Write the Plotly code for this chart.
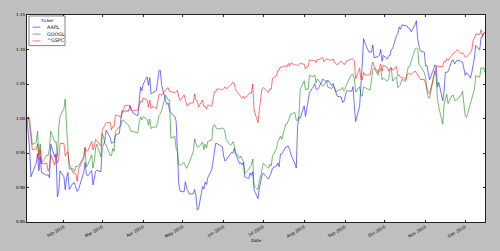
import numpy as np
import pandas as pd
import plotly.graph_objects as go

# ---------------- data ----------------
tickers = ["AAPL", "GOOGL", "^GSPC"]
holidays = ["2016-01-18", "2016-02-15", "2016-03-25", "2016-05-30",
            "2016-07-04", "2016-09-05", "2016-11-24"]
dates = pd.bdate_range("2016-01-04", "2016-12-16", freq="C", holidays=holidays)

aapl_close = [
    # Jan
    105.35, 102.71, 100.70, 96.45, 96.96, 98.53, 99.96, 97.39, 99.52, 97.13, 96.66, 96.79, 96.30, 101.42, 99.44, 99.99, 93.42, 94.09, 97.34,
    # Feb
    96.43, 94.48, 96.35, 96.60, 94.02, 95.01, 94.99, 94.27, 93.70, 93.99, 96.64, 98.12, 96.26, 96.04, 96.88, 94.69, 96.10, 96.76, 96.91, 96.69,
    # Mar
    100.53, 100.75, 101.50, 103.01, 101.87, 101.03, 101.12, 101.17, 102.26, 102.52, 104.58, 105.97, 105.80, 105.92, 105.91, 106.72, 106.13, 105.67, 105.19, 107.68, 109.56, 108.99,
    # Apr
    109.99, 111.12, 109.81, 110.96, 108.54, 108.66, 109.02, 110.44, 112.04, 112.10, 109.85, 107.48, 106.91, 107.13, 105.97, 105.68, 105.08, 104.35, 97.82, 94.83, 93.74,
    # May
    93.64, 95.18, 94.19, 93.24, 92.72, 92.79, 93.42, 92.51, 90.34, 90.52, 93.88, 93.49, 94.56, 94.20, 95.22, 96.43, 97.90, 99.62, 100.41, 100.35, 99.86,
    # Jun
    98.46, 97.72, 97.92, 98.63, 99.03, 98.94, 99.65, 98.83, 97.34, 97.46, 97.14, 97.55, 95.33, 95.10, 95.91, 95.55, 96.10, 93.40, 92.04, 93.59, 94.40, 95.60,
    # Jul
    95.89, 94.99, 95.53, 95.94, 96.68, 96.98, 97.42, 96.87, 98.79, 98.78, 99.83, 99.87, 99.96, 99.43, 98.66, 97.34, 96.67, 102.95, 104.34, 104.21,
    # Aug
    106.05, 104.48, 105.79, 105.87, 107.48, 108.37, 108.81, 108.00, 107.93, 108.18, 109.48, 109.38, 109.22, 109.08, 109.36, 108.51, 108.85, 108.03, 107.57, 106.94, 106.82, 106.00, 106.10,
    # Sep
    106.73, 107.73, 107.70, 108.36, 105.52, 103.13, 105.44, 107.95, 111.77, 115.57, 114.92, 113.58, 113.57, 113.55, 114.62, 112.71, 112.88, 113.09, 113.95, 112.18, 113.05,
    # Oct
    112.52, 113.00, 113.05, 113.89, 114.06, 116.05, 116.30, 117.34, 116.98, 117.63, 117.55, 117.47, 117.12, 117.06, 116.60, 117.65, 118.25, 115.59, 114.48, 113.72, 113.54,
    # Nov
    111.49, 111.59, 109.83, 108.84, 110.41, 111.06, 110.88, 107.79, 108.43, 105.71, 107.11, 109.99, 109.95, 110.06, 111.73, 111.80, 111.23, 111.79, 111.57, 111.46, 110.52,
    # Dec
    109.49, 109.90, 109.11, 109.95, 111.03, 112.12, 113.95, 113.30, 115.19, 115.19, 115.82, 115.97,
]
aapl_div_dates = ["2016-02-04", "2016-05-05", "2016-08-04", "2016-11-03"]
aapl_div_amounts = [0.52, 0.57, 0.57, 0.57]

googl_close = [
    # Jan
    759.44, 761.53, 759.33, 741.00, 730.91, 733.07, 745.34, 719.57, 731.39, 710.49, 719.08, 718.56, 726.67, 745.46, 733.62, 733.79, 717.58, 748.30, 761.35,
    # Feb
    770.77, 780.91, 749.38, 730.03, 703.76, 704.16, 701.02, 706.85, 706.36, 706.89, 717.64, 727.79, 706.00, 708.40, 719.40, 704.76, 712.64, 726.95, 731.20, 717.22,
    # Mar
    742.95, 739.48, 731.59, 730.22, 718.81, 718.58, 726.47, 723.38, 744.87, 750.24, 750.57, 757.36, 757.65, 755.41, 752.07, 748.17, 744.91, 745.31, 743.67, 755.35, 761.22, 757.90,
    # Apr
    761.67, 758.61, 752.25, 758.99, 748.22, 749.98, 750.01, 754.73, 762.63, 764.63, 768.15, 785.13, 781.50, 779.66, 780.00, 737.77, 739.83, 725.56, 723.42, 708.23, 707.88,
    # May
    711.09, 707.12, 704.56, 708.09, 711.00, 723.18, 737.23, 731.97, 728.28, 727.89, 733.35, 725.21, 731.11, 727.11, 734.15, 735.76, 751.63, 752.70, 749.48, 747.60, 748.85,
    # Jun
    748.46, 744.27, 735.86, 730.06, 731.09, 733.83, 730.05, 722.09, 715.74, 717.99, 714.07, 712.10, 698.80, 703.25, 706.46, 708.42, 714.87, 685.20, 681.14, 691.26, 695.19, 703.53,
    # Jul
    710.25, 704.89, 708.97, 707.26, 717.78, 726.29, 734.09, 736.07, 739.95, 736.45, 753.22, 753.41, 757.08, 759.28, 764.46, 765.98, 757.52, 757.22, 761.55, 791.34,
    # Aug
    800.94, 790.84, 791.92, 791.30, 806.93, 805.23, 807.48, 798.82, 802.96, 801.47, 795.03, 795.85, 798.23, 800.88, 793.68, 792.44, 795.03, 792.71, 788.43, 789.91, 791.53, 793.64, 789.85,
    # Sep
    791.40, 796.87, 808.02, 807.99, 802.84, 788.48, 794.57, 784.76, 784.11, 793.94, 793.48, 791.23, 790.84, 801.61, 813.19, 814.96, 807.14, 813.07, 814.50, 802.15, 804.06,
    # Oct
    800.38, 802.79, 813.02, 815.26, 800.71, 805.14, 793.45, 795.65, 796.80, 802.66, 800.17, 810.93, 816.51, 816.97, 821.23, 835.74, 836.94, 836.32, 818.36, 817.35, 809.90,
    # Nov
    805.48, 790.51, 782.52, 781.76, 805.59, 811.98, 805.59, 780.29, 771.75, 753.22, 775.16, 779.98, 786.16, 775.97, 784.80, 785.00, 779.00, 780.23, 785.79, 789.44, 775.88,
    # Dec
    762.20, 760.78, 777.23, 780.04, 785.04, 791.47, 806.65, 804.79, 815.34, 813.97, 815.65, 809.84,
]

gspc_close = [
    # Jan
    2012.66, 2016.71, 1990.26, 1943.09, 1922.03, 1923.67, 1938.68, 1890.28, 1921.84, 1880.33, 1881.33, 1859.33, 1868.99, 1906.90, 1877.08, 1903.63, 1882.95, 1893.36, 1940.24,
    # Feb
    1939.38, 1903.03, 1912.53, 1915.45, 1880.05, 1853.44, 1852.21, 1851.86, 1829.08, 1864.78, 1895.58, 1926.82, 1917.83, 1917.78, 1945.50, 1921.27, 1929.80, 1951.70, 1948.05, 1932.23,
    # Mar
    1978.35, 1986.45, 1993.40, 1999.99, 2001.76, 1979.26, 1989.26, 1989.57, 2022.19, 2019.64, 2015.93, 2027.22, 2040.59, 2049.58, 2051.60, 2049.80, 2036.71, 2035.94, 2037.05, 2055.01, 2063.95, 2059.74,
    # Apr
    2072.78, 2066.13, 2045.17, 2066.66, 2041.91, 2047.60, 2041.99, 2061.72, 2082.42, 2082.78, 2080.73, 2094.34, 2100.80, 2102.40, 2091.48, 2091.58, 2087.79, 2091.70, 2095.15, 2075.81, 2065.30,
    # May
    2081.43, 2063.37, 2051.12, 2050.63, 2057.14, 2058.69, 2084.39, 2064.46, 2064.11, 2046.61, 2066.66, 2047.21, 2047.63, 2040.04, 2052.32, 2048.04, 2076.06, 2090.54, 2090.10, 2099.06, 2096.95,
    # Jun
    2099.33, 2105.26, 2099.13, 2109.41, 2112.13, 2119.12, 2115.48, 2096.07, 2079.06, 2075.32, 2071.50, 2077.99, 2071.22, 2083.25, 2088.90, 2085.45, 2113.32, 2037.41, 2000.54, 2036.09, 2070.77, 2098.86,
    # Jul
    2102.95, 2088.55, 2099.73, 2097.90, 2129.90, 2137.16, 2152.14, 2152.43, 2163.75, 2161.74, 2166.89, 2163.78, 2173.02, 2165.17, 2175.03, 2168.48, 2169.18, 2166.58, 2170.06, 2173.60,
    # Aug
    2170.84, 2157.03, 2163.79, 2164.25, 2182.87, 2180.89, 2181.74, 2175.49, 2185.79, 2184.05, 2190.15, 2178.15, 2182.22, 2187.02, 2183.87, 2182.64, 2186.90, 2175.44, 2172.47, 2169.04, 2180.38, 2176.12, 2170.95,
    # Sep
    2170.86, 2179.98, 2186.48, 2186.16, 2181.30, 2127.81, 2159.04, 2127.02, 2125.77, 2147.26, 2139.16, 2139.12, 2139.76, 2163.12, 2177.18, 2164.69, 2146.10, 2159.93, 2171.37, 2151.13, 2168.27,
    # Oct
    2161.20, 2150.49, 2159.73, 2160.77, 2153.74, 2163.66, 2136.73, 2139.18, 2132.55, 2132.98, 2126.50, 2139.60, 2144.29, 2141.34, 2141.16, 2151.33, 2143.16, 2139.43, 2133.04, 2126.41, 2126.15,
    # Nov
    2111.72, 2097.94, 2088.66, 2085.18, 2131.52, 2139.56, 2163.26, 2167.48, 2164.45, 2164.20, 2180.39, 2176.94, 2187.12, 2181.90, 2198.18, 2202.94, 2204.72, 2213.35, 2201.72, 2204.66, 2198.81,
    # Dec
    2191.08, 2191.95, 2204.71, 2212.23, 2241.35, 2246.19, 2259.53, 2256.96, 2271.72, 2253.28, 2262.03, 2258.07,
]

y_ticks = [0.85, 0.90, 0.95, 1.00, 1.05, 1.10, 1.15]


# ---------------- processing ----------------
def adjusted(close, div_dates, div_amounts):
    close = np.asarray(close, dtype=float)
    adj = close.copy()
    for d, a in zip(div_dates, div_amounts):
        i = dates.get_loc(pd.Timestamp(d))
        adj[:i] *= 1.0 - a / close[i - 1]
    return adj


series = {
    "AAPL": adjusted(aapl_close, aapl_div_dates, aapl_div_amounts),
    "GOOGL": np.asarray(googl_close, dtype=float),
    "^GSPC": np.asarray(gspc_close, dtype=float),
}
normed = {k: v / v[0] for k, v in series.items()}

# ---------------- style ----------------
W, H = 500, 251
L, R, T, B = 27, 485, 12, 225
colors = {"AAPL": "rgba(0,0,255,0.55)", "GOOGL": "rgba(0,128,0,0.55)", "^GSPC": "rgba(255,0,0,0.55)"}
FONT = "DejaVu Sans"


def px_x(px):
    return (px - L) / (R - L)


def px_y(py):
    return (B - py) / (B - T)


fig = go.Figure()
for name in tickers:
    fig.add_trace(go.Scatter(
        x=dates, y=normed[name], mode="lines", name=name,
        line=dict(color=colors[name], width=1), showlegend=False,
    ))

axis_common = dict(
    showline=True, linecolor="#222", linewidth=0.8, mirror="allticks",
    ticks="inside", ticklen=2.5, tickwidth=0.6, tickcolor="#222",
    showgrid=False, zeroline=False,
    tickfont=dict(family=FONT, size=4.2, color="#000"),
)

fig.update_xaxes(
    range=[dates[0], dates[-1]], tickformat="%b %Y", dtick="M1",
    tick0="2016-01-01", tickangle=-30, **axis_common,
)
fig.update_yaxes(
    range=[0.85, 1.15], tickvals=y_ticks, tickformat=".2f", **axis_common,
)

shapes = [dict(type="rect", xref="paper", yref="paper",
               x0=px_x(29), x1=px_x(65), y0=px_y(43.5), y1=px_y(13),
               fillcolor="white", line=dict(color="#333", width=0.6), layer="above")]
annotations = [
    dict(text="Ticker", xref="paper", yref="paper", x=px_x(47), y=px_y(17.5),
         showarrow=False, xanchor="center", yanchor="middle",
         font=dict(family=FONT, size=4.2, color="#000")),
    dict(text="Date", xref="paper", yref="paper", x=px_x(256), y=px_y(244),
         showarrow=False, xanchor="center", yanchor="middle",
         font=dict(family=FONT, size=4.2, color="#000")),
]
for i, name in enumerate(tickers):
    ly = 24.5 + 7.1 * i
    shapes.append(dict(type="line", xref="paper", yref="paper",
                       x0=px_x(32.5), x1=px_x(40.5), y0=px_y(ly), y1=px_y(ly),
                       line=dict(color=colors[name], width=1), layer="above"))
    annotations.append(dict(text=name, xref="paper", yref="paper", x=px_x(44.5), y=px_y(ly),
                            showarrow=False, xanchor="left", yanchor="middle",
                            font=dict(family=FONT, size=4.8, color="#000")))

fig.update_layout(
    width=W, height=H,
    margin=dict(l=L, r=W - R, t=T, b=H - B, pad=0),
    paper_bgcolor="#bfbfbf", plot_bgcolor="white",
    font=dict(family=FONT, size=4.2, color="#000"),
    shapes=shapes, annotations=annotations,
    showlegend=False,
)

fig.write_html("out.html")
